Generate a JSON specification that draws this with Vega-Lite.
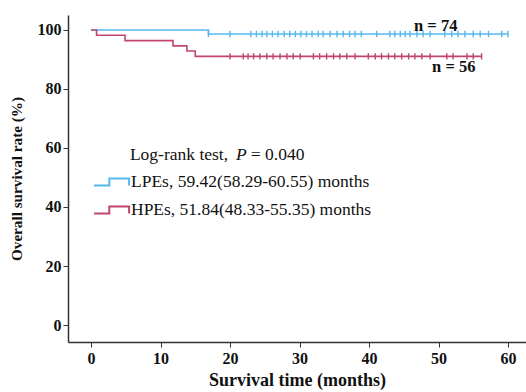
{
  "$schema": "https://vega.github.io/schema/vega-lite/v6.json",
  "width": 458,
  "height": 327,
  "autosize": "none",
  "padding": {"left": 68, "top": 15, "right": 0, "bottom": 50},
  "background": "white",
  "config": {
    "view": {"stroke": null},
    "font": "Liberation Serif",
    "axis": {
      "grid": false,
      "domainColor": "#333333",
      "domainWidth": 1.5,
      "tickColor": "#333333",
      "tickWidth": 1,
      "tickSize": 5,
      "labelFont": "Liberation Serif",
      "labelFontWeight": "bold",
      "labelFontSize": 16,
      "labelColor": "#111111",
      "titleFont": "Liberation Serif",
      "titleFontWeight": "bold",
      "titleColor": "#111111"
    },
    "legend": {
      "labelFont": "Liberation Serif",
      "labelFontSize": 17.5,
      "labelColor": "#111111",
      "labelLimit": 400
    }
  },
  "datasets": {
    "curves": [
      {"group": "LPEs", "time": 0, "surv": 100},
      {"group": "LPEs", "time": 16.9, "surv": 98.65},
      {"group": "LPEs", "time": 60, "surv": 98.65},
      {"group": "HPEs", "time": 0, "surv": 100},
      {"group": "HPEs", "time": 0.8, "surv": 98.2},
      {"group": "HPEs", "time": 4.9, "surv": 96.4},
      {"group": "HPEs", "time": 11.8, "surv": 94.6},
      {"group": "HPEs", "time": 13.8, "surv": 92.9},
      {"group": "HPEs", "time": 15.0, "surv": 91.07},
      {"group": "HPEs", "time": 56.2, "surv": 91.07}
    ],
    "censored": [
      {"group": "LPEs", "time": 16.9, "surv": 98.65},
      {"group": "LPEs", "time": 20.0, "surv": 98.65},
      {"group": "LPEs", "time": 23.0, "surv": 98.65},
      {"group": "LPEs", "time": 23.8, "surv": 98.65},
      {"group": "LPEs", "time": 24.6, "surv": 98.65},
      {"group": "LPEs", "time": 25.3, "surv": 98.65},
      {"group": "LPEs", "time": 26.1, "surv": 98.65},
      {"group": "LPEs", "time": 26.9, "surv": 98.65},
      {"group": "LPEs", "time": 27.8, "surv": 98.65},
      {"group": "LPEs", "time": 28.6, "surv": 98.65},
      {"group": "LPEs", "time": 29.4, "surv": 98.65},
      {"group": "LPEs", "time": 30.2, "surv": 98.65},
      {"group": "LPEs", "time": 31.0, "surv": 98.65},
      {"group": "LPEs", "time": 31.8, "surv": 98.65},
      {"group": "LPEs", "time": 32.7, "surv": 98.65},
      {"group": "LPEs", "time": 33.4, "surv": 98.65},
      {"group": "LPEs", "time": 34.4, "surv": 98.65},
      {"group": "LPEs", "time": 35.4, "surv": 98.65},
      {"group": "LPEs", "time": 36.3, "surv": 98.65},
      {"group": "LPEs", "time": 37.2, "surv": 98.65},
      {"group": "LPEs", "time": 38.0, "surv": 98.65},
      {"group": "LPEs", "time": 38.9, "surv": 98.65},
      {"group": "LPEs", "time": 41.1, "surv": 98.65},
      {"group": "LPEs", "time": 43.0, "surv": 98.65},
      {"group": "LPEs", "time": 43.7, "surv": 98.65},
      {"group": "LPEs", "time": 44.5, "surv": 98.65},
      {"group": "LPEs", "time": 45.2, "surv": 98.65},
      {"group": "LPEs", "time": 45.9, "surv": 98.65},
      {"group": "LPEs", "time": 46.9, "surv": 98.65},
      {"group": "LPEs", "time": 47.8, "surv": 98.65},
      {"group": "LPEs", "time": 48.8, "surv": 98.65},
      {"group": "LPEs", "time": 50.9, "surv": 98.65},
      {"group": "LPEs", "time": 51.9, "surv": 98.65},
      {"group": "LPEs", "time": 52.8, "surv": 98.65},
      {"group": "LPEs", "time": 53.8, "surv": 98.65},
      {"group": "LPEs", "time": 55.0, "surv": 98.65},
      {"group": "LPEs", "time": 56.0, "surv": 98.65},
      {"group": "LPEs", "time": 57.2, "surv": 98.65},
      {"group": "LPEs", "time": 59.1, "surv": 98.65},
      {"group": "LPEs", "time": 60.0, "surv": 98.65},
      {"group": "HPEs", "time": 20.0, "surv": 91.07},
      {"group": "HPEs", "time": 21.9, "surv": 91.07},
      {"group": "HPEs", "time": 22.6, "surv": 91.07},
      {"group": "HPEs", "time": 23.4, "surv": 91.07},
      {"group": "HPEs", "time": 24.3, "surv": 91.07},
      {"group": "HPEs", "time": 25.3, "surv": 91.07},
      {"group": "HPEs", "time": 26.2, "surv": 91.07},
      {"group": "HPEs", "time": 27.2, "surv": 91.07},
      {"group": "HPEs", "time": 28.2, "surv": 91.07},
      {"group": "HPEs", "time": 29.1, "surv": 91.07},
      {"group": "HPEs", "time": 30.1, "surv": 91.07},
      {"group": "HPEs", "time": 32.0, "surv": 91.07},
      {"group": "HPEs", "time": 32.9, "surv": 91.07},
      {"group": "HPEs", "time": 33.9, "surv": 91.07},
      {"group": "HPEs", "time": 34.9, "surv": 91.07},
      {"group": "HPEs", "time": 35.8, "surv": 91.07},
      {"group": "HPEs", "time": 36.8, "surv": 91.07},
      {"group": "HPEs", "time": 38.0, "surv": 91.07},
      {"group": "HPEs", "time": 39.9, "surv": 91.07},
      {"group": "HPEs", "time": 40.9, "surv": 91.07},
      {"group": "HPEs", "time": 41.8, "surv": 91.07},
      {"group": "HPEs", "time": 42.8, "surv": 91.07},
      {"group": "HPEs", "time": 43.7, "surv": 91.07},
      {"group": "HPEs", "time": 44.7, "surv": 91.07},
      {"group": "HPEs", "time": 45.7, "surv": 91.07},
      {"group": "HPEs", "time": 46.6, "surv": 91.07},
      {"group": "HPEs", "time": 47.6, "surv": 91.07},
      {"group": "HPEs", "time": 48.8, "surv": 91.07},
      {"group": "HPEs", "time": 51.2, "surv": 91.07},
      {"group": "HPEs", "time": 52.1, "surv": 91.07},
      {"group": "HPEs", "time": 54.1, "surv": 91.07},
      {"group": "HPEs", "time": 55.0, "surv": 91.07},
      {"group": "HPEs", "time": 56.2, "surv": 91.07}
    ],
    "notes": [{"note": 1}]
  },
  "layer": [
    {
      "data": {"name": "curves"},
      "mark": {"type": "line", "interpolate": "step-after", "strokeWidth": 1.6},
      "encoding": {
        "x": {
          "field": "time",
          "type": "quantitative",
          "scale": {"domain": [-3.31, 62.59], "nice": false, "zero": false},
          "axis": {
            "values": [0, 10, 20, 30, 40, 50, 60],
            "title": "Survival time (months)",
            "titleFontSize": 18,
            "labelPadding": 3,
            "titlePadding": 5
          }
        },
        "y": {
          "field": "surv",
          "type": "quantitative",
          "scale": {"domain": [-5.76, 105.08], "nice": false, "zero": false},
          "axis": {
            "values": [0, 10, 20, 30, 40, 50, 60, 70, 80, 90, 100],
            "labelExpr": "datum.value % 20 == 0 ? datum.label : ''",
            "title": "Overall survival rate (%)",
            "titleFontSize": 15.2,
            "labelPadding": 2,
            "titlePadding": 13
          }
        },
        "color": {
          "field": "group",
          "type": "nominal",
          "scale": {"domain": ["LPEs", "HPEs"], "range": ["#55b8f0", "#c0466f"]},
          "legend": {
            "orient": "none",
            "legendX": 25,
            "legendY": 148,
            "title": null,
            "padding": 0,
            "symbolType": "M-1,0.2L-0.15,0.2L-0.15,-0.2L0.95,-0.2L0.95,0.2",
            "symbolSize": 1296,
            "symbolStrokeWidth": 2,
            "symbolFillColor": "transparent",
            "labelOffset": 0,
            "rowPadding": -6,
            "labelExpr": "datum.label == 'LPEs' ? 'LPEs, 59.42(58.29-60.55) months' : 'HPEs, 51.84(48.33-55.35) months'"
          }
        }
      }
    },
    {
      "data": {"name": "censored"},
      "mark": {"type": "point", "shape": "M0,-1L0,1", "size": 40, "strokeWidth": 1.4, "filled": false, "opacity": 1},
      "encoding": {
        "x": {"field": "time", "type": "quantitative"},
        "y": {"field": "surv", "type": "quantitative"},
        "color": {"field": "group", "type": "nominal"}
      }
    },
    {
      "data": {"name": "notes"},
      "mark": {"type": "text", "font": "Liberation Serif", "fontSize": 16.5, "fontWeight": "bold", "align": "center", "baseline": "middle", "color": "#111111"},
      "encoding": {"x": {"datum": 49.6, "type": "quantitative"}, "y": {"datum": 101.4, "type": "quantitative"}, "text": {"value": "n = 74"}}
    },
    {
      "data": {"name": "notes"},
      "mark": {"type": "text", "font": "Liberation Serif", "fontSize": 16.5, "fontWeight": "bold", "align": "center", "baseline": "middle", "color": "#111111"},
      "encoding": {"x": {"datum": 52.2, "type": "quantitative"}, "y": {"datum": 87.5, "type": "quantitative"}, "text": {"value": "n = 56"}}
    },
    {
      "data": {"name": "notes"},
      "mark": {"type": "text", "font": "Liberation Serif", "fontSize": 17.5, "align": "left", "baseline": "middle", "color": "#111111"},
      "encoding": {"x": {"datum": 5.6, "type": "quantitative"}, "y": {"datum": 57.6, "type": "quantitative"}, "text": {"value": "Log-rank test,"}}
    },
    {
      "data": {"name": "notes"},
      "mark": {"type": "text", "font": "Liberation Serif", "fontSize": 17.5, "fontStyle": "italic", "align": "left", "baseline": "middle", "color": "#111111"},
      "encoding": {"x": {"datum": 20.85, "type": "quantitative"}, "y": {"datum": 57.6, "type": "quantitative"}, "text": {"value": "P"}}
    },
    {
      "data": {"name": "notes"},
      "mark": {"type": "text", "font": "Liberation Serif", "fontSize": 17.5, "align": "left", "baseline": "middle", "color": "#111111"},
      "encoding": {"x": {"datum": 23.0, "type": "quantitative"}, "y": {"datum": 57.6, "type": "quantitative"}, "text": {"value": "= 0.040"}}
    }
  ]
}
